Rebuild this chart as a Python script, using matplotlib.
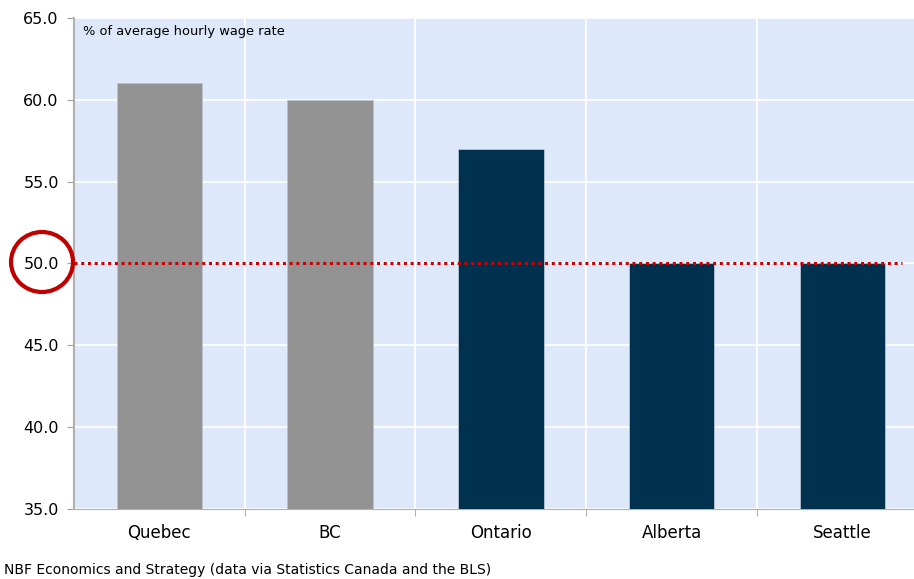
import numpy as np
import matplotlib.pyplot as plt
from matplotlib.patches import Ellipse

regions = ["Quebec", "BC", "Ontario", "Alberta", "Seattle"]
values = [61.0, 60.0, 57.0, 50.0, 50.0]
bar_colors = ["#939393", "#939393", "#00314e", "#00314e", "#00314e"]
threshold = 50.0

fig = plt.figure(figsize=(9.14, 5.79), dpi=100)
ax = fig.add_axes([0.081, 0.121, 0.919, 0.848])
ax.set_facecolor("#dde9fb")

x = np.arange(len(regions))
ax.bar(x, values, width=0.5, color=bar_colors, edgecolor="#b8c4d4", linewidth=0.6, zorder=3)
ax.axhline(threshold, xmin=0, xmax=0.986, color="#cc0000", linestyle=(0, (1, 1.2)), linewidth=2.2, zorder=4)

ax.set_ylim(35, 65)
ax.set_yticks(np.arange(35, 66, 5))
ax.set_yticklabels([f"{v:.1f}" for v in np.arange(35, 66, 5)], fontsize=11.5)
ax.set_xlim(-0.5, 4.42)
ax.set_xticks(x)
ax.set_xticklabels(regions, fontsize=12)
ax.set_xticks(np.arange(0.5, 4.5, 1), minor=True)
ax.tick_params(axis="x", which="major", length=0, pad=11)
ax.tick_params(axis="x", which="minor", length=5, color="#a0a0a0")
ax.tick_params(axis="y", length=5, color="#a0a0a0", pad=6)
ax.grid(axis="y", color="white", linewidth=1.2, zorder=0)
ax.grid(axis="x", which="minor", color="white", linewidth=1.2, zorder=0)

for s in ["top", "right"]:
    ax.spines[s].set_visible(False)
ax.spines["left"].set_color("#b0b0b0")
ax.spines["left"].set_linewidth(1.5)
ax.spines["bottom"].set_color("#b0b0b0")

ax.text(0.011, 0.985, "% of average hourly wage rate", transform=ax.transAxes,
        fontsize=9.4, va="top", ha="left")

fig.add_artist(Ellipse((42 / 914, 1 - 262 / 579), width=62 / 914, height=60 / 579,
                       transform=fig.transFigure, fill=False, edgecolor="#c00000", linewidth=3))

fig.text(0.004, 0.003, "NBF Economics and Strategy (data via Statistics Canada and the BLS)",
         fontsize=10, ha="left", va="bottom")

fig.savefig("out.png", dpi=100)
